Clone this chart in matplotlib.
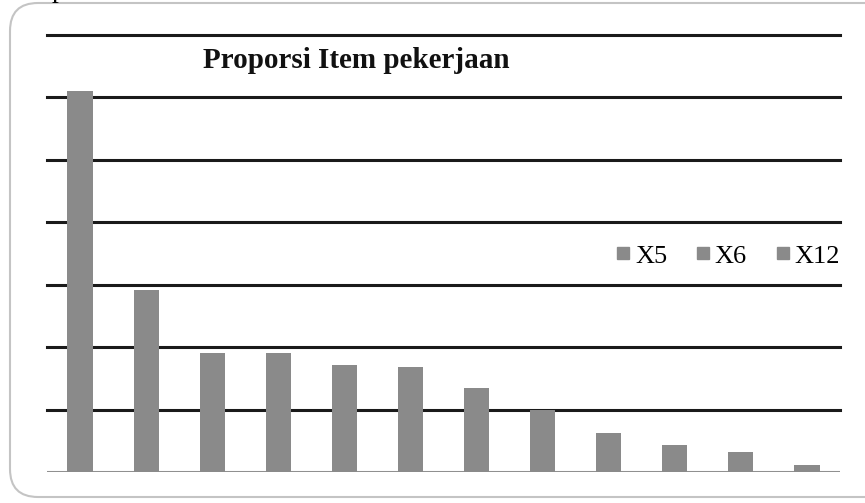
"""
Proporsi Item pekerjaan - bar chart
"""
import matplotlib
matplotlib.use("Agg")
import matplotlib.pyplot as plt
from matplotlib.lines import Line2D
from matplotlib.patches import FancyBboxPatch
from matplotlib.transforms import IdentityTransform
import numpy as np

# data (proporsi %)
items = ["Item 1", "Item 2", "Item 3", "Item 4", "Item 5", "Item 6",
         "Item 7", "Item 8", "Item 9", "Item 10", "Item 11", "Item 12"]
proporsi = [30.5, 14.6, 9.5, 9.5, 8.6, 8.4, 6.7, 5.0, 3.1, 2.2, 1.6, 0.6]
legend_labels = ["X5", "X6", "X12"]
grid_ticks = [5, 10, 15, 20, 25, 30, 35]

serif = ["Liberation Serif", "DejaVu Serif"]
bar_color = "#8a8a8a"

fig = plt.figure(figsize=(8.65, 5.03), dpi=100)

# rounded chart border
border = FancyBboxPatch((10, 6), 890, 494, boxstyle="round,pad=0,rounding_size=28",
                        transform=IdentityTransform(), facecolor="none",
                        edgecolor="#c4c4c4", linewidth=1.5, zorder=-1)
fig.patches.append(border)

# stray caption text cut by top edge
fig.text(52 / 865, 1 + 3 / 503, "p", fontsize=20, family=serif, va="baseline")

ax = fig.add_axes([47 / 865, 1 - 472 / 503, (840 - 47) / 865, (472 - 35) / 503])
ax.set_facecolor("none")
x = np.arange(len(items))
ax.bar(x, proporsi, width=0.38, color=bar_color, zorder=3)

for t in grid_ticks:
    ax.axhline(t, color="#1a1a1a", linewidth=2.2, zorder=1, clip_on=False)
ax.axhline(0, color="#909090", linewidth=2.2, zorder=2)

ax.set_xlim(-0.5, len(items) - 0.5)
ax.set_ylim(0, 35)
ax.set_xticks([])
ax.set_yticks([])
for s in ax.spines.values():
    s.set_visible(False)

fig.text(356 / 865, 1 - 60 / 503, "Proporsi Item pekerjaan", fontsize=21,
         fontweight="bold", family=serif, ha="center", va="center", color="#111111")

handles = [Line2D([], [], marker="s", linestyle="none", markersize=9,
                  color=bar_color) for _ in legend_labels]
fig.legend(handles, legend_labels, loc="center right",
           bbox_to_anchor=(840 / 865, 1 - 256 / 503), ncol=3, frameon=False,
           prop={"family": serif, "size": 19}, handlelength=0.5,
           handletextpad=0.2, columnspacing=1.1, borderaxespad=0, borderpad=0)

fig.savefig("out.png", dpi=100)
plt.close(fig)
print("[OK] chart")
